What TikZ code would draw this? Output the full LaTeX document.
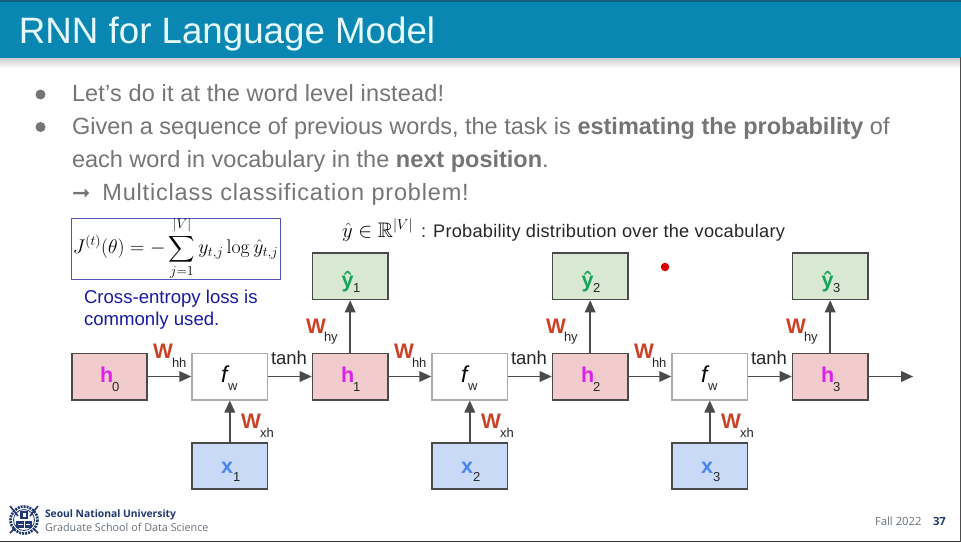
\documentclass[tikz,border=0pt]{standalone}
\usepackage{amsmath,amssymb}
\usepackage[no-math]{fontspec}
\setmainfont{Liberation Sans}
\newfontfamily\symfont{DejaVu Sans}
\newfontfamily\notofont{Open Sans}
\usetikzlibrary{arrows.meta,calc}
\definecolor{hdr}{HTML}{0A86B3}
\definecolor{hdrdark}{HTML}{145F7C}
\definecolor{titlec}{HTML}{E6FBFF}
\definecolor{bodyc}{HTML}{757575}
\definecolor{hfill}{HTML}{F2CCCC}
\definecolor{yfill}{HTML}{D9E8D3}
\definecolor{xfill}{HTML}{C9DAF6}
\definecolor{edge}{HTML}{4A4A4A}
\definecolor{fedge}{HTML}{ABABAB}
\definecolor{wred}{HTML}{CC4125}
\definecolor{hmag}{HTML}{E020E8}
\definecolor{ygreen}{HTML}{17A35B}
\definecolor{xblue}{HTML}{4A86E8}
\definecolor{lossblue}{HTML}{1A1AA0}
\definecolor{loge}{HTML}{20386F}
\definecolor{foot}{HTML}{66707A}
\tikzset{
  x=1pt,y=-1pt,
  box/.style={draw=edge,line width=1.7pt,outer sep=0.85pt,minimum width=75.3pt,minimum height=46.3pt,inner sep=0pt,anchor=north west},
  hbox/.style={box,fill=hfill},
  ybox/.style={box,fill=yfill},
  xbox/.style={box,fill=xfill},
  fbox/.style={box,draw=fedge,fill=white},
  conn/.style={draw=edge,line width=1.7pt,-{Triangle[length=12pt,width=10.5pt]}},
  txt/.style={inner sep=0pt,outer sep=0pt,anchor=base west},
  wlab/.style={txt,text=wred,font=\fontsize{21}{21}\selectfont\bfseries},
  sublab/.style={txt,text=black!85,font=\fontsize{13}{13}\selectfont},
  body/.style={txt,text=bodyc,font=\fontsize{23.5}{23.5}\selectfont},
  var/.style={txt,font=\fontsize{21.5}{21.5}\selectfont\bfseries},
}
\begin{document}
\begin{tikzpicture}
\useasboundingbox (0,0) rectangle (961,542);
\fill[white] (0,0) rectangle (961,542);
% header
\shade[top color=black!22,bottom color=white] (0,57) rectangle (961,68);
\fill[hdr] (0,0) rectangle (961,57.5);
\fill[hdrdark] (0,0) rectangle (961,1.5);
\node[txt,text=titlec,font=\fontsize{36.7}{36.7}\selectfont] (title) at (19,43) {RNN for Language Model};
% bullets
\node[circle,fill=bodyc,minimum size=10pt,inner sep=0pt] (b1) at (40.5,94.5) {};
\node[circle,fill=bodyc,minimum size=10pt,inner sep=0pt] (b2) at (40.5,127) {};
\node[body] (l1) at (72,101) {\addfontfeature{LetterSpace=0.8}Let’s do it at the word level instead!};
\node[body] (l2) at (72,134) {Given a sequence of previous words, the task is \textbf{estimating the probability} of};
\node[body] (l3) at (72,167) {each word in vocabulary in the \textbf{next position}.};
\node[body] (l4) at (72,200) {{\symfont\fontsize{22}{22}\selectfont ➞}\hspace{12pt}\addfontfeature{LetterSpace=3.5}Multiclass classification problem!};
% loss
\node[draw=lossblue!75,line width=1pt,minimum width=209pt,minimum height=61pt,inner sep=0pt,anchor=north west] (lossbox) at (71,218) {};
\node[inner sep=0pt,font=\fontsize{19.2}{19.2}\selectfont] (loss) at (175.5,248.5) {\scalebox{0.955}{$\displaystyle J^{(t)}(\theta)=-\sum_{j=1}^{|V|}y_{t,j}\log\hat{y}_{t,j}$}};
\node[txt,text=lossblue,font=\fontsize{18.6}{18.6}\selectfont] (ce1) at (84,303) {Cross-entropy loss is};
\node[txt,text=lossblue,font=\fontsize{18.6}{18.6}\selectfont] (ce2) at (84,325) {commonly used.};
% distribution
\node[txt,font=\fontsize{21}{21}\selectfont] (yhat) at (342,237) {$\hat{y}\in\mathbb{R}^{|V|}$};
\node[txt,text=black!85,font=\fontsize{18.2}{18.2}\selectfont] (dist) at (421,237) {\addfontfeature{LetterSpace=1.4}: Probability distribution over the vocabulary};
\node[circle,fill=red!85!black,minimum size=8.5pt,inner sep=0pt] (dot) at (665,267) {};
% initial state
\node[hbox] (h0) at (71,352.5) {};
\node[var,text=hmag] (h0t) at (100,382) {h};
\node[sublab] (h0s) at (112,391) {0};
\node[wlab] (w0) at (153,358) {W};
\node[sublab] (w0s) at (172,367) {hh};
% repeated units
\foreach \i/\o in {1/0,2/240,3/480}{
  \node[fbox] (f\i) at (191.3+\o,352.5) {};
  \node[hbox] (h\i) at (311.7+\o,352.5) {};
  \node[ybox] (y\i) at (311.7+\o,252.3) {};
  \node[xbox] (x\i) at (191.3+\o,441.9) {};
  \node[txt,font=\fontsize{23}{23}\selectfont\itshape] (ft\i) at (221+\o,382) {f};
  \node[sublab] (fs\i) at (228+\o,390) {w};
  \node[sublab,font=\fontsize{18.5}{18.5}\selectfont] (tanh\i) at (271+\o,364) {tanh};
  \node[var,text=hmag] (ht\i) at (341+\o,382) {h};
  \node[sublab] (hs\i) at (353+\o,391) {\i};
  \node[var,text=ygreen] (yt\i) at (341.5+\o,287) {ŷ};
  \node[sublab] (ys\i) at (353+\o,292) {\i};
  \node[var,text=xblue] (xt\i) at (221+\o,473) {x};
  \node[sublab] (xs\i) at (233+\o,481) {\i};
  \node[wlab] (wx\i) at (241+\o,428) {W};
  \node[sublab] (wxs\i) at (260+\o,437) {xh};
  \node[wlab] (wy\i) at (306+\o,333) {W};
  \node[sublab] (wys\i) at (324+\o,341) {hy};
  \draw[conn] (f\i.east) -- (h\i.west);
  \draw[conn] (x\i.north) -- (f\i.south);
  \draw[conn] (h\i.north) -- (y\i.south);
}
\node[wlab] (w1) at (394,358) {W};
\node[sublab] (w1s) at (412,367) {hh};
\node[wlab] (w2) at (634,358) {W};
\node[sublab] (w2s) at (652,367) {hh};
\draw[conn] (h0.east) -- (f1.west);
\draw[conn] (h1.east) -- (f2.west);
\draw[conn] (h2.east) -- (f3.west);
\coordinate (out) at ([xshift=44.5pt]h3.east);
\draw[conn] (h3.east) -- (out);
% logo
\begin{scope}[shift={(24,520)}]
  \draw[loge,line width=2.6pt,dash pattern=on 2pt off 1pt] (0,0) circle (13.5);
  \draw[loge,line width=0.8pt] (0,0) circle (10.5);
  \fill[loge] (-4,-9) rectangle (4,-1);
  \fill[white] (-1.5,-7) rectangle (2,-3);
  \fill[loge] (-8,1) rectangle (8,8);
  \draw[white,line width=0.7pt] (0,1) -- (0,8) (-6,4) -- (-1.5,4) (1.5,4) -- (6,4);
  \draw[loge,line width=1.6pt] (-14,-14) -- (-6,-4) (14,-14) -- (6,-4) (-14,13) -- (-9,8) (14,13) -- (9,8);
\end{scope}
% footer
\node[txt,text=loge,font=\notofont\fontsize{10.3}{10.3}\selectfont\bfseries] (snu) at (45,517) {Seoul National University};
\node[txt,text=foot,font=\notofont\fontsize{10.8}{10.8}\selectfont] (gsds) at (45,531) {Graduate School of Data Science};
\node[txt,text=foot,font=\notofont\fontsize{11.3}{11.3}\selectfont] (fall) at (875,525) {Fall 2022};
\node[txt,text=loge,font=\notofont\fontsize{11.3}{11.3}\selectfont\bfseries] (pg) at (933,525) {37};
% frame
\draw[black!80,line width=1.4pt] (0,541.3) -- (961,541.3);
\draw[black!70,line width=1pt] (960.5,57) -- (960.5,542);
\end{tikzpicture}
\end{document}
